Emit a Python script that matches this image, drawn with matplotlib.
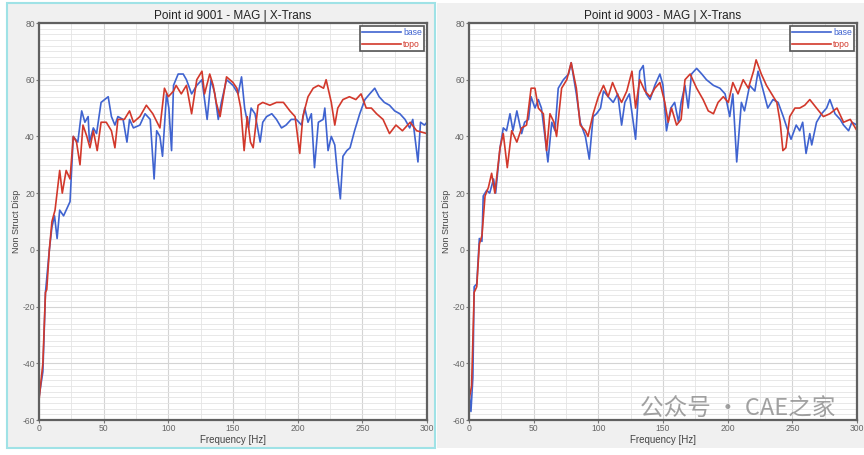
import numpy as np
import matplotlib
matplotlib.use("Agg")
import matplotlib.pyplot as plt
from matplotlib.patches import Rectangle
from matplotlib.ticker import MultipleLocator

plt.rcParams["font.family"] = ["Liberation Sans", "DejaVu Sans"]
plt.rcParams["axes.unicode_minus"] = False

# Point 9001 - base
f1_base = [0, 3, 5, 8, 10, 12, 14, 16, 19, 24, 26.5, 30, 33, 35.5, 38, 39, 42, 44.5, 48, 53.5, 56, 58.7, 61,
           65, 68, 70, 73, 78, 82, 86, 89, 91, 93.5, 95.5, 98.6, 100.4, 102.5, 104, 107.6, 111.5, 114, 118,
           122, 126, 130, 133, 136, 138.6, 141, 145, 150, 154, 156.6, 159, 162, 164, 167, 171, 173, 176,
           180, 183.6, 187.5, 191, 195, 199, 203, 205.5, 208, 210.6, 213, 216, 219.7, 221, 223.5, 226, 228.7,
           230.5, 233, 235, 238, 240.5, 244, 248, 252, 255.7, 259.6, 263, 267, 271, 275, 279, 283, 286.6,
           289, 293, 295, 298, 300]
v1_base = [-52, -43, -15, 0, 8, 12, 4, 14, 12, 17, 40, 38, 49, 45, 47, 38, 43, 41, 52, 54, 47, 44, 47,
           46, 38, 46, 43, 44, 48, 46, 25, 42, 40, 33, 55, 50, 35, 58, 62, 62, 60, 55,
           58, 60, 46, 60, 55, 46, 52, 60, 58, 55, 61, 50, 43, 50, 48, 38, 45, 47,
           48, 46, 43, 44, 46, 46, 44, 50, 45, 48, 29, 45, 46, 50, 35, 40, 37,
           28, 18, 33, 35, 36, 42, 48, 53, 55, 57, 54, 52, 51, 49, 48, 46, 43,
           46, 31, 45, 44, 45]

# Point 9001 - topo
f1_topo = [0, 3, 5, 6, 8, 10, 12.4, 16, 18, 21, 24, 26.5, 29, 31.7, 34, 37, 39.4, 42, 45, 48, 52, 56, 58.7,
           61, 66, 70, 73, 78, 83, 88, 93.5, 97, 100, 104, 106, 110, 114, 118, 122, 126, 128, 132, 134.7,
           137, 140, 145, 150, 153, 156, 158.6, 161, 163.5, 165.6, 169.4, 173, 178.5, 183.6, 189, 194, 198,
           201.6, 204, 208, 212, 216, 220, 222, 226, 228.7, 231, 235, 240, 245, 249, 253, 257, 261, 266,
           271, 276, 281, 287, 292, 300]
v1_topo = [-53, -40, -15, -14, 0, 10, 14, 28, 20, 28, 25, 40, 38, 30, 44, 40, 36, 42, 35, 45, 45, 42, 36,
           46, 46, 49, 45, 47, 51, 48, 43, 57, 54, 56, 58, 55, 58, 48, 60, 63, 55, 62, 58,
           52, 47, 61, 59, 57, 50, 35, 47, 38, 36, 51, 52, 51, 52, 52, 49, 47,
           34, 47, 54, 57, 58, 57, 60, 52, 44, 50, 53, 54, 53, 55, 50, 50, 48, 46,
           41, 44, 42, 45, 42, 41]

# Point 9003 - base
f2_base = [0, 1.5, 3, 4, 6, 8, 10, 11, 13.7, 16, 19, 20.6, 24, 26.5, 29, 31.7, 34, 37, 40.7, 43, 46, 48, 51,
           53.6, 56, 58.7, 61, 64, 66.5, 69, 73, 77, 79, 83, 86, 90, 93, 96, 98.6, 101.7, 104, 107.6,
           111.5, 115, 118, 120.5, 124, 128.8, 132, 134.7, 137, 140, 143.7, 147.6, 150, 152.7, 156, 159,
           162, 164, 167, 169.5, 172, 176, 180, 183.6, 189, 194, 198, 201.6, 204, 207, 210.6, 213, 217,
           221, 223.5, 227, 231, 235, 239, 243, 246.6, 249, 253, 255.7, 258, 260.6, 263.5, 265, 268.7,
           272.6, 276.5, 279, 283, 287, 289.6, 293.5, 296, 300]
v2_base = [-50, -57, -45, -13, -12, 4, 3, 19, 21, 20, 25, 20, 36, 43, 42, 48, 42, 49, 41, 45, 46, 54, 50,
           53, 50, 40, 31, 45, 42, 57, 60, 62, 66, 55, 45, 40, 32, 47, 48, 50, 56, 54,
           52, 55, 44, 52, 55, 39, 63, 65, 55, 53, 58, 62, 58, 42, 50, 52,
           45, 52, 58, 50, 62, 64, 62, 60, 58, 57, 55, 47, 55, 31, 52, 49, 58,
           56, 63, 57, 50, 53, 52, 47, 42, 39, 44, 42, 45, 34, 41, 37, 45,
           48, 50, 53, 48, 46, 44, 42, 45, 44]

# Point 9003 - topo
f2_topo = [0, 2, 4, 6, 8, 10, 12.4, 15, 17.5, 20, 24, 26.5, 29.6, 33, 37, 40.7, 44.5, 48, 51, 53.6, 57.5, 60,
           62.6, 65.7, 67.7, 71.6, 75.6, 79, 83, 86, 90, 92, 96, 100, 104, 107.6, 111, 114.6, 118, 122,
           126, 128.8, 132, 136, 140, 143.7, 147.6, 151.4, 154, 156.6, 160.5, 164, 167, 171, 176, 181, 185,
           189, 192.6, 196.6, 200.5, 204, 208, 212, 216, 220, 222, 226, 230, 234, 238, 240.6, 242.7, 245,
           248, 252, 255.7, 259.6, 263.5, 268.7, 274, 279, 284.5, 289.6, 294.8, 300]
v2_topo = [-53, -48, -15, -13, 2, 5, 19, 22, 27, 20, 36, 41, 29, 42, 38, 43, 44, 57, 57, 50, 48, 35,
           48, 45, 40, 57, 60, 66, 57, 44, 42, 40, 48, 54, 58, 54, 59, 55, 52, 56,
           63, 50, 60, 56, 54, 57, 59, 52, 45, 50, 44, 46, 60, 62, 57, 53, 49,
           48, 52, 54, 52, 59, 55, 60, 57, 63, 67, 62, 58, 55, 52, 45, 35, 36,
           47, 50, 50, 51, 53, 50, 47, 48, 50, 45, 46, 42]

panels = [
    ("Point id 9001 - MAG | X-Trans", f1_base, v1_base, f1_topo, v1_topo),
    ("Point id 9003 - MAG | X-Trans", f2_base, v2_base, f2_topo, v2_topo),
]

blue = "#3f63d0"
red = "#d2382b"

W, H = 864, 455
fig = plt.figure(figsize=(W / 100, H / 100), dpi=100, facecolor="white")

# gray panel backgrounds (left one has the cyan selection frame)
fig.patches.append(Rectangle((7 / W, 1 - 448 / H), 428 / W, 445 / H, transform=fig.transFigure,
                             facecolor="#f0f0f0", edgecolor="#9fe2e6", linewidth=1.5, zorder=-5))
fig.patches.append(Rectangle((437 / W, 1 - 448 / H), 427 / W, 445 / H, transform=fig.transFigure,
                             facecolor="#f0f0f0", edgecolor="none", zorder=-5))

lefts = [39, 469]
for left, (title, fb, vb, ft, vt) in zip(lefts, panels):
    ax = fig.add_axes([left / W, 1 - 420 / H, 388 / W, 397 / H])
    ax.plot(fb, vb, color=blue, lw=1.2, label="base")
    ax.plot(ft, vt, color=red, lw=1.2, label="topo")
    ax.set_xlim(0, 300)
    ax.set_ylim(-60, 80)
    ax.xaxis.set_major_locator(MultipleLocator(50))
    ax.xaxis.set_minor_locator(MultipleLocator(25))
    ax.yaxis.set_major_locator(MultipleLocator(20))
    ax.yaxis.set_minor_locator(MultipleLocator(2))
    ax.grid(which="major", color="#d4d4d4", lw=0.8)
    ax.grid(which="minor", color="#e4e4e4", lw=0.6)
    ax.set_axisbelow(True)
    for s in ax.spines.values():
        s.set_color("#606060")
        s.set_linewidth(1.6)
    ax.tick_params(which="both", length=2, labelsize=6.2, labelcolor="#666666", color="#777777", pad=1)
    ax.tick_params(which="minor", length=0)
    ax.set_title(title, fontsize=8.5, color="#222222", pad=3)
    ax.set_xlabel("Frequency [Hz]", fontsize=7, color="#444444", labelpad=1)
    ax.set_ylabel("Non Struct Disp", fontsize=6.5, color="#444444", labelpad=1)
    leg = ax.legend(loc="upper right", fontsize=6.2, handlelength=4.5, handletextpad=0.2,
                    borderpad=0.3, labelspacing=0.3, fancybox=False, framealpha=1,
                    borderaxespad=0.3)
    leg.get_frame().set_edgecolor("#555555")
    leg.get_frame().set_linewidth(1.2)
    for txt, c in zip(leg.get_texts(), [blue, red]):
        txt.set_color(c)

fig.text(640 / W, 1 - 409 / H, "公众号 · CAE之家", fontsize=17, color="#8a8a8a", alpha=0.8,
         va="center", ha="left", family=["Noto Sans CJK SC", "DejaVu Sans"], zorder=10)

fig.savefig("out.png", dpi=100, facecolor="white")
